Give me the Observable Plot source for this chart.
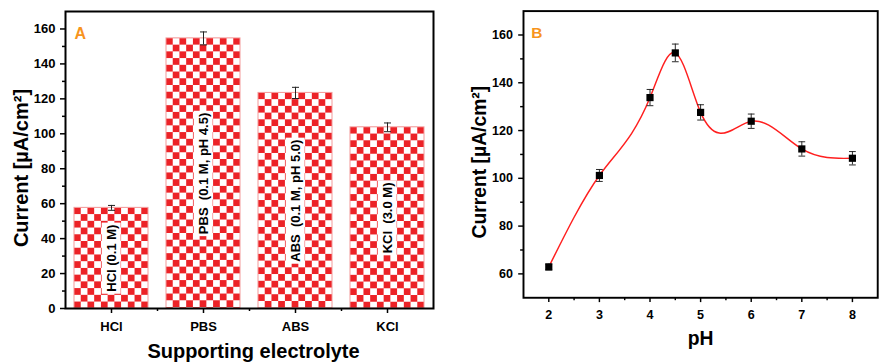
<!DOCTYPE html>
<html>
<head>
<meta charset="utf-8">
<script src="https://cdn.jsdelivr.net/npm/d3@7"></script>
<script src="https://cdn.jsdelivr.net/npm/@observablehq/plot@0.6"></script>
<style>
  body { margin: 0; background: #fff; }
  #wrap { position: relative; width: 884px; height: 362px; overflow: hidden; background: #fff; }
  #panelA { position: absolute; left: 0; top: 0; }
  #panelB { position: absolute; left: 440px; top: 0; }
  svg { overflow: visible; }
</style>
</head>
<body>
<div id="wrap"><div id="panelA"></div><div id="panelB"></div></div>
<script>
// Panel A: current by supporting electrolyte
const electrolytes = ["HCl", "PBS", "ABS", "KCl"];
const electrolyteCurrent = [57.6, 154.6, 123.4, 103.7];
const electrolyteError = [1.4, 3.7, 3.2, 2.5];
const electrolyteLabels = ["HCl (0.1 M)", "PBS  (0.1 M, pH 4.5)", "ABS  (0.1 M, pH 5.0)", "KCl  (3.0 M)"];
const yTicksA = [0, 20, 40, 60, 80, 100, 120, 140, 160];
const yMinorA = [10, 30, 50, 70, 90, 110, 130, 150];

// Panel B: current versus pH
const pHValues = [2, 3, 4, 4.5, 5, 6, 7, 8];
const pHCurrent = [62.9, 101.2, 133.8, 152.5, 127.6, 123.9, 112.3, 108.4];
const pHError = [1.2, 2.5, 3.4, 3.7, 3.2, 3.0, 3.0, 2.8];
const xTicksB = [2, 3, 4, 5, 6, 7, 8];
const xMinorB = [2.5, 3.5, 4.5, 5.5, 6.5, 7.5];
const yTicksB = [60, 80, 100, 120, 140, 160];
const yMinorB = [70, 90, 110, 130, 150];

const FONT = "'Liberation Sans', Arial, Helvetica, sans-serif";
const RED = "#ec2227";
const ORANGE = "#f7941d";
const yTitle = "Current [µA/cm²]";

// horizontal cap used for the error bars
const capSymbol = {
  draw(ctx, size) {
    const w = Math.sqrt(size / Math.PI);
    ctx.moveTo(-w, 0);
    ctx.lineTo(w, 0);
  }
};

// natural cubic spline curve parameterised by x (as y = f(x)), drawn with Bézier segments
function curveSplineX(context) {
  let xs, ys;
  return {
    areaStart() {}, areaEnd() {},
    lineStart() { xs = []; ys = []; },
    point(x, y) { xs.push(+x); ys.push(+y); },
    lineEnd() {
      const n = xs.length;
      if (n === 0) return;
      context.moveTo(xs[0], ys[0]);
      if (n === 1) return;
      if (n === 2) { context.lineTo(xs[1], ys[1]); return; }
      const h = [], M = new Array(n).fill(0);
      for (let i = 0; i < n - 1; i++) h.push(xs[i + 1] - xs[i]);
      // tridiagonal solve for second derivatives (natural ends)
      const a = [], b = [], c = [], r = [];
      for (let i = 1; i < n - 1; i++) {
        a.push(h[i - 1]); b.push(2 * (h[i - 1] + h[i])); c.push(h[i]);
        r.push(6 * ((ys[i + 1] - ys[i]) / h[i] - (ys[i] - ys[i - 1]) / h[i - 1]));
      }
      const m = b.length;
      for (let i = 1; i < m; i++) {
        const w = a[i] / b[i - 1];
        b[i] -= w * c[i - 1];
        r[i] -= w * r[i - 1];
      }
      const sol = new Array(m);
      sol[m - 1] = r[m - 1] / b[m - 1];
      for (let i = m - 2; i >= 0; i--) sol[i] = (r[i] - c[i] * sol[i + 1]) / b[i];
      for (let i = 0; i < m; i++) M[i + 1] = sol[i];
      for (let i = 0; i < n - 1; i++) {
        const hi = h[i], s = (ys[i + 1] - ys[i]) / hi;
        const d0 = s - hi * (2 * M[i] + M[i + 1]) / 6;
        const d1 = s + hi * (M[i] + 2 * M[i + 1]) / 6;
        context.bezierCurveTo(
          xs[i] + hi / 3, ys[i] + d0 * hi / 3,
          xs[i + 1] - hi / 3, ys[i + 1] - d1 * hi / 3,
          xs[i + 1], ys[i + 1]
        );
      }
    }
  };
}

const barRows = electrolytes.map((e, i) => ({
  e, v: electrolyteCurrent[i], err: electrolyteError[i],
  label: electrolyteLabels[i], fill: `url(#checker${i})`
}));

const styleBase = { fontFamily: FONT, fontWeight: "bold", fontSize: "13px", color: "#000", background: "transparent", overflow: "visible" };

const plotA = Plot.plot({
  width: 440, height: 362,
  marginLeft: 65, marginRight: 7, marginTop: 11, marginBottom: 54,
  style: styleBase,
  x: { domain: electrolytes, paddingInner: 0.2, paddingOuter: 0.1, label: null },
  y: { domain: [0, 170], label: null },
  color: { type: "identity" },
  marks: [
    Plot.barY(barRows, { x: "e", y: "v", fill: "fill", stroke: "#f39a9a", strokeWidth: 1 }),
    Plot.ruleX(barRows, { x: "e", y1: d => d.v - d.err, y2: d => d.v + d.err, stroke: "#222", strokeWidth: 1 }),
    Plot.dot(barRows, { x: "e", y: d => d.v + d.err, symbol: capSymbol, r: 3.5, stroke: "#222", strokeWidth: 1, fill: "none" }),
    Plot.dot(barRows, { x: "e", y: d => d.v - d.err, symbol: capSymbol, r: 3.5, stroke: "#222", strokeWidth: 1, fill: "none" }),
    Plot.text(barRows, { x: "e", y: d => d.v / 2, text: "label", rotate: -90, fontSize: 13, fontWeight: "bold", fill: "#000", ariaDescription: "bar-labels" }),
    Plot.axisY({ ticks: yTicksA, tickSize: 5, tickPadding: 5, strokeWidth: 1.5, label: null }),
    Plot.axisY({ ticks: yMinorA, tickSize: 3, tickFormat: () => "", strokeWidth: 1.5, label: null }),
    Plot.axisX({ ticks: electrolytes, tickSize: 5, tickPadding: 8, strokeWidth: 1.5, label: null }),
    Plot.axisX({ ticks: electrolytes.slice(0, 3), dx: 46, tickSize: 3, tickFormat: () => "", strokeWidth: 1.5, label: null }),
    Plot.frame({ stroke: "#000", strokeWidth: 2 }),
    Plot.text(["A"], { frameAnchor: "top-left", dx: 9, dy: 16, lineAnchor: "top", textAnchor: "start", fontSize: 16, fontWeight: "bold", fill: ORANGE }),
    Plot.text([yTitle], { frameAnchor: "left", dx: -38, dy: 8, rotate: -90, textAnchor: "middle", lineAnchor: "bottom", fontSize: 20, fontWeight: "bold", fill: "#000" }),
    Plot.text(["Supporting electrolyte"], { frameAnchor: "bottom", dx: 4, dy: 35, lineAnchor: "top", fontSize: 20, fontWeight: "bold", fill: "#000" })
  ]
});

const ns = "http://www.w3.org/2000/svg";
// checkerboard fills, one per bar so each starts with a red cell at its top-left corner
{
  const xs = plotA.scale("x"), ys = plotA.scale("y");
  const cell = xs.bandwidth / 11;
  const defs = document.createElementNS(ns, "defs");
  barRows.forEach((d, i) => {
    const px = xs.apply(d.e), py = ys.apply(d.v);
    const p = document.createElementNS(ns, "pattern");
    p.setAttribute("id", `checker${i}`);
    p.setAttribute("patternUnits", "userSpaceOnUse");
    p.setAttribute("x", px); p.setAttribute("y", py);
    p.setAttribute("width", 2 * cell); p.setAttribute("height", 2 * cell);
    p.innerHTML = `<rect width="${2 * cell}" height="${2 * cell}" fill="#fff"/>` +
      `<rect width="${cell}" height="${cell}" fill="${RED}"/>` +
      `<rect x="${cell}" y="${cell}" width="${cell}" height="${cell}" fill="${RED}"/>`;
    defs.appendChild(p);
  });
  plotA.prepend(defs);
}
document.getElementById("panelA").appendChild(plotA);

// white boxes behind the rotated bar labels
plotA.querySelectorAll('g[aria-description="bar-labels"] text').forEach(t => {
  const b = t.getBBox();
  const r = document.createElementNS(ns, "rect");
  r.setAttribute("x", b.x - 2); r.setAttribute("y", b.y - 2);
  r.setAttribute("width", b.width + 4); r.setAttribute("height", b.height + 4);
  r.setAttribute("fill", "#fff");
  const tr = t.getAttribute("transform");
  if (tr) r.setAttribute("transform", tr);
  t.parentNode.insertBefore(r, t);
});

const pHRows = pHValues.map((x, i) => ({ x, y: pHCurrent[i], err: pHError[i] }));

const plotB = Plot.plot({
  width: 460, height: 362,
  marginLeft: 86, marginRight: 7, marginTop: 11, marginBottom: 54,
  style: styleBase,
  x: { domain: [1.5, 8.5], label: null },
  y: { domain: [50, 170], label: null },
  marks: [
    Plot.line(pHRows, { x: "x", y: "y", curve: curveSplineX, stroke: "#ff1f1f", strokeWidth: 1.5 }),
    Plot.ruleX(pHRows, { x: "x", y1: d => d.y - d.err, y2: d => d.y + d.err, stroke: "#222", strokeWidth: 1 }),
    Plot.dot(pHRows, { x: "x", y: d => d.y + d.err, symbol: capSymbol, r: 3.5, stroke: "#222", strokeWidth: 1, fill: "none" }),
    Plot.dot(pHRows, { x: "x", y: d => d.y - d.err, symbol: capSymbol, r: 3.5, stroke: "#222", strokeWidth: 1, fill: "none" }),
    Plot.dot(pHRows, { x: "x", y: "y", symbol: "square", r: 4.2, fill: "#000", stroke: "none" }),
    Plot.axisY({ ticks: yTicksB, tickSize: 5, tickPadding: 6, strokeWidth: 1.5, tickFormat: d3.format("d"), label: null }),
    Plot.axisY({ ticks: yMinorB, tickSize: 3, tickFormat: () => "", strokeWidth: 1.5, label: null }),
    Plot.axisX({ ticks: xTicksB, tickSize: 5, tickPadding: 8, strokeWidth: 1.5, tickFormat: d3.format("d"), label: null }),
    Plot.axisX({ ticks: xMinorB, tickSize: 3, tickFormat: () => "", strokeWidth: 1.5, label: null }),
    Plot.frame({ stroke: "#000", strokeWidth: 2 }),
    Plot.text(["B"], { frameAnchor: "top-left", dx: 8, dy: 16, lineAnchor: "top", textAnchor: "start", fontSize: 16, fontWeight: "bold", fill: ORANGE }),
    Plot.text([yTitle], { frameAnchor: "left", dx: -39, dy: 8, rotate: -90, textAnchor: "middle", lineAnchor: "bottom", fontSize: 20, fontWeight: "bold", fill: "#000" }),
    Plot.text(["pH"], { frameAnchor: "bottom", dy: 35, lineAnchor: "top", fontSize: 20, fontWeight: "bold", fill: "#000" })
  ]
});
document.getElementById("panelB").appendChild(plotB);
</script>
</body>
</html>
